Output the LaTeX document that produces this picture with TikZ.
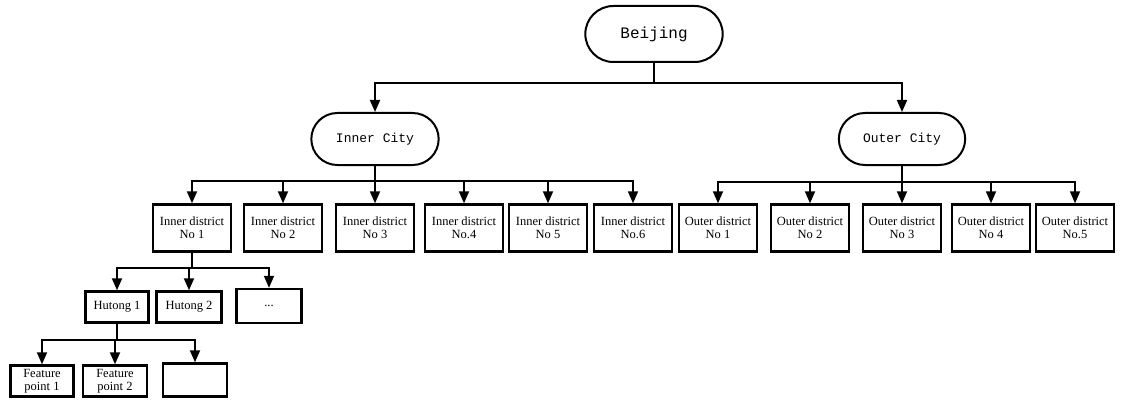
\documentclass[tikz,border=0pt]{standalone}
\usepackage{fontspec}
\setmainfont{Liberation Serif}
\newfontfamily\cityfont{Liberation Mono}
\usetikzlibrary{arrows.meta}
\usetikzlibrary{shapes.misc}

\tikzset{
  city/.style={draw, rounded rectangle, line width=2pt, font=\cityfont\fontsize{13}{15}\selectfont},
  district/.style={draw, rectangle, line width=2.4pt, minimum width=78pt, minimum height=47pt,
    align=center, inner sep=1pt, font=\fontsize{12.5}{13}\selectfont},
  hutong/.style={district, minimum width=63pt, minimum height=31pt},
  bus/.style={line width=1.8pt},
  link/.style={line width=1.8pt, -{Triangle[width=10pt,length=12pt]}},
}

\begin{document}
\begin{tikzpicture}[x=1pt, y=-1pt]
\useasboundingbox (0,0) rectangle (1123,401);
% city level
\node[city, minimum width=144pt, minimum height=56pt, font=\cityfont\fontsize{16}{18}\selectfont] (beijing) at (654,34) {Beijing};
\node[city, minimum width=134pt, minimum height=52pt] (inner) at (375,139) {Inner City};
\node[city, minimum width=133pt, minimum height=52pt] (outer) at (902,139) {Outer City};
\coordinate (topbus) at (654,83);
\draw[bus] (beijing.south) -- (topbus);
\draw[link] (topbus) -| (inner.north);
\draw[link] (topbus) -| (outer.north);
% districts
\foreach \x/\n/\lbl in {192/1/No 1, 283/2/No 2, 375/3/No 3, 464/4/No.4, 548/5/No 5, 633/6/No.6}
  \node[district] (in\n) at (\x,228) {Inner district\\\lbl};
\foreach \x/\n/\lbl in {718/1/No 1, 810/2/No 2, 902/3/No 3, 991/4/No 4, 1075/5/No.5}
  \node[district] (out\n) at (\x,228) {Outer district\\\lbl};
\coordinate (innerbus) at (375,181);
\coordinate (outerbus) at (902,182);
\draw[bus] (inner.south) -- (innerbus);
\draw[bus] (outer.south) -- (outerbus);
\foreach \n in {1,...,6}
  \draw[link] (innerbus) -| (in\n.north);
\foreach \n in {1,...,5}
  \draw[link] (outerbus) -| (out\n.north);
% hutongs
\node[hutong] (hut1) at (117,307) {Hutong 1};
\node[hutong, minimum width=65pt] (hut2) at (189,307) {Hutong 2};
\node[hutong, minimum width=65pt, minimum height=34pt] (hutmore) at (269,306) {...};
\coordinate (hutbus) at (192,268);
\draw[bus] (in1.south) -- (hutbus);
\foreach \h in {hut1, hut2, hutmore}
  \draw[link] (hutbus) -| (\h.north);
% feature points
\node[hutong] (feat1) at (42,381) {Feature\\point 1};
\node[hutong, minimum width=64pt] (feat2) at (115,381) {Feature\\point 2};
\node[hutong, minimum width=64pt, minimum height=33pt] (featmore) at (195,380) {};
\coordinate (featbus) at (117,340);
\draw[bus] (hut1.south) -- (featbus);
\foreach \f in {feat1, feat2, featmore}
  \draw[link] (featbus) -| (\f.north);
\end{tikzpicture}
\end{document}
